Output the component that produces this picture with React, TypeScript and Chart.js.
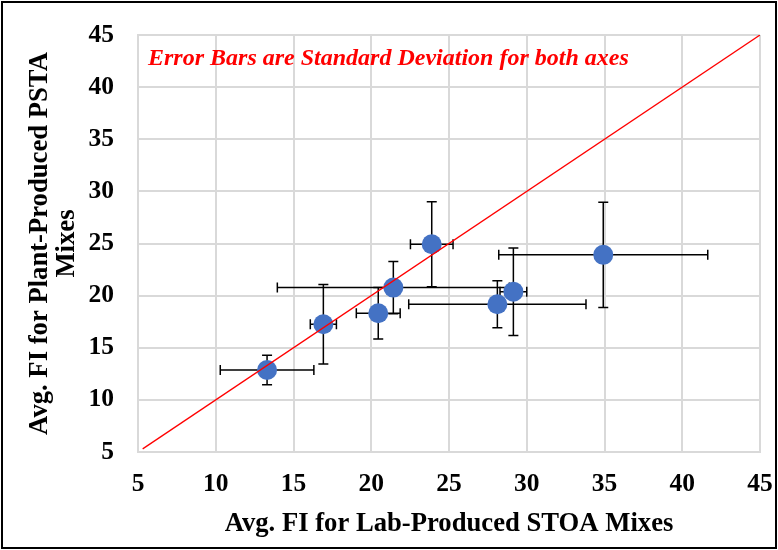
import React, { useEffect, useRef } from "react";
import { Chart, registerables } from "chart.js";

Chart.register(...registerables);

// Data
const labX = [13.3, 16.92, 20.45, 21.42, 23.89, 29.14, 28.11, 34.92];
const plantY = [12.87, 17.25, 18.31, 20.77, 24.93, 20.38, 19.17, 23.91];
const labSd = [3.01, 0.84, 1.41, 7.46, 1.37, 0.86, 5.7, 6.72];
const plantSd = [1.41, 3.82, 2.48, 2.5, 4.07, 4.2, 2.26, 5.04];
const equalityX = [5.3, 45];
const equalityY = [5.3, 45];
const axisMin = 5;
const axisMax = 45;
const axisStep = 5;
const xTitle = "Avg. FI for Lab-Produced STOA Mixes";
const yTitle = ["Avg. FI for Plant-Produced PSTA", "Mixes"];
const noteText = "Error Bars are Standard Deviation for both axes";

const SERIF = '"Liberation Serif", "Times New Roman", serif';

const errorBarPlugin = {
  id: "errorBars",
  beforeDatasetsDraw(chart: any) {
    const { ctx } = chart;
    const xs = chart.scales.x;
    const ys = chart.scales.y;
    const cap = 5;
    ctx.save();
    ctx.strokeStyle = "#000000";
    ctx.lineWidth = 1.5;
    for (let i = 0; i < labX.length; i++) {
      const cx = xs.getPixelForValue(labX[i]);
      const cy = ys.getPixelForValue(plantY[i]);
      const x0 = xs.getPixelForValue(labX[i] - labSd[i]);
      const x1 = xs.getPixelForValue(labX[i] + labSd[i]);
      const y0 = ys.getPixelForValue(plantY[i] - plantSd[i]);
      const y1 = ys.getPixelForValue(plantY[i] + plantSd[i]);
      ctx.beginPath();
      ctx.moveTo(x0, cy);
      ctx.lineTo(x1, cy);
      ctx.moveTo(x0, cy - cap);
      ctx.lineTo(x0, cy + cap);
      ctx.moveTo(x1, cy - cap);
      ctx.lineTo(x1, cy + cap);
      ctx.moveTo(cx, y0);
      ctx.lineTo(cx, y1);
      ctx.moveTo(cx - cap, y0);
      ctx.lineTo(cx + cap, y0);
      ctx.moveTo(cx - cap, y1);
      ctx.lineTo(cx + cap, y1);
      ctx.stroke();
    }
    ctx.restore();
  },
};

const notePlugin = {
  id: "note",
  afterDraw(chart: any) {
    const { ctx, chartArea } = chart;
    ctx.save();
    ctx.fillStyle = "#FF0000";
    ctx.font = `italic bold 24px ${SERIF}`;
    ctx.textBaseline = "alphabetic";
    ctx.textAlign = "left";
    ctx.fillText(noteText, chartArea.left + 10, chartArea.top + 30);
    ctx.restore();
    ctx.save();
    ctx.strokeStyle = "#000000";
    ctx.lineWidth = 2;
    ctx.strokeRect(2, 2, chart.width - 4, chart.height - 4);
    ctx.restore();
  },
};

export default function App() {
  const ref = useRef<HTMLCanvasElement | null>(null);
  useEffect(() => {
    document.body.style.margin = "0";
    const canvas = ref.current;
    if (!canvas) return;
    const pointData = labX.map((x, i) => ({ x, y: plantY[i] }));
    const lineData = equalityX.map((x, i) => ({ x, y: equalityY[i] }));
    const tickFont = { family: SERIF, size: 25.5, weight: "bold" as const };
    const chart = new Chart(canvas, {
      type: "scatter",
      data: {
        datasets: [
          {
            type: "line",
            data: lineData,
            borderColor: "#FF0000",
            borderWidth: 1.3,
            pointRadius: 0,
            showLine: true,
            fill: false,
            order: 0,
          } as any,
          {
            data: pointData,
            backgroundColor: "#4472C4",
            borderWidth: 0,
            pointRadius: 10,
            pointHoverRadius: 10,
            order: 1,
          },
        ],
      },
      options: {
        responsive: false,
        animation: false,
        events: [],
        layout: { padding: { top: 35, right: 18, left: 0, bottom: 0 } },
        plugins: {
          legend: { display: false },
          tooltip: { enabled: false },
        },
        scales: {
          x: {
            type: "linear",
            min: axisMin,
            max: axisMax,
            afterFit: (s: any) => {
              s.height = 98;
              s.paddingLeft = 0;
              s.paddingRight = 0;
            },
            ticks: {
              stepSize: axisStep,
              color: "#000000",
              font: tickFont,
              padding: 17,
              maxRotation: 0,
            },
            grid: { color: "#D9D9D9", lineWidth: 2, drawTicks: false },
            border: { display: true, color: "#D9D9D9", width: 2 },
            title: {
              display: true,
              text: xTitle,
              color: "#000000",
              font: { family: SERIF, size: 26.67, weight: "bold", lineHeight: 1.0 },
              padding: { top: 0, bottom: 13 },
            },
          },
          y: {
            type: "linear",
            min: axisMin,
            max: axisMax,
            afterFit: (s: any) => {
              s.width = 138;
              s.paddingTop = 0;
              s.paddingBottom = 0;
            },
            ticks: {
              stepSize: axisStep,
              color: "#000000",
              font: tickFont,
              padding: 24,
            },
            grid: { color: "#D9D9D9", lineWidth: 2, drawTicks: false },
            border: { display: true, color: "#D9D9D9", width: 2 },
            title: {
              display: true,
              text: yTitle,
              color: "#000000",
              font: { family: SERIF, size: 26.67, weight: "bold", lineHeight: 1.0 },
              padding: { top: 27, bottom: 0 },
            },
          },
        },
      },
      plugins: [errorBarPlugin, notePlugin],
    });
    return () => chart.destroy();
  }, []);
  return <canvas ref={ref} width={778} height={550} style={{ display: "block" }} />;
}
